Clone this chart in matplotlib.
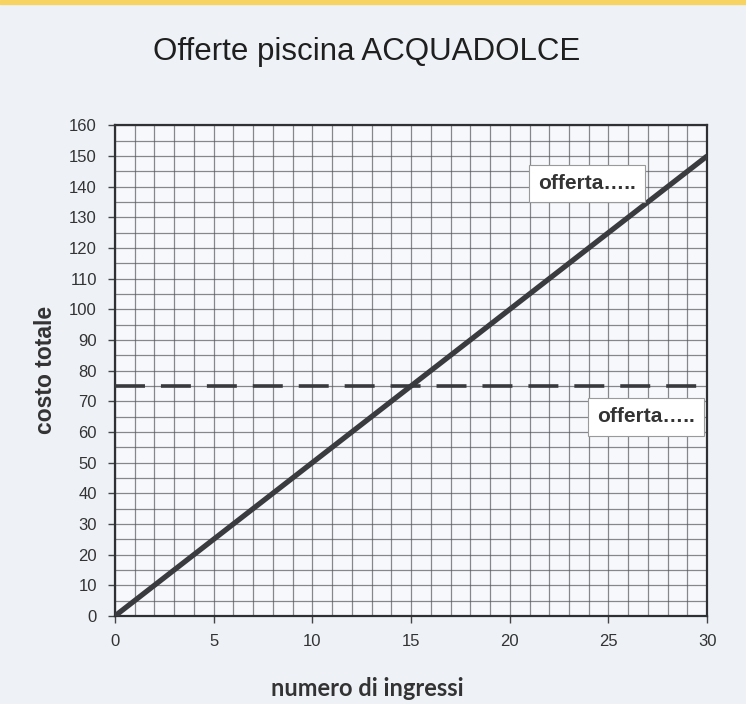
import numpy as np
import matplotlib.pyplot as plt
from matplotlib.patches import Rectangle

# data
ingressi = [0, 30]
costo_a = [0, 150]          # offerta a ingresso
costo_b = [75, 75]          # offerta fissa
x_ticks = [0, 5, 10, 15, 20, 25, 30]
y_ticks = list(range(0, 161, 10))
label_a = "offerta….."
label_b = "offerta….."

bg = "#eef2f7"
fig = plt.figure(figsize=(7.46, 7.04), dpi=100, facecolor=bg)
fig.patches.append(Rectangle((0, 0.994), 1, 0.006, transform=fig.transFigure,
                             color="#f7d462", zorder=5))

ax = fig.add_axes([0.154, 0.125, 0.794, 0.697])
ax.set_facecolor("#f6f8fb")
ax.set_xlim(0, 30)
ax.set_ylim(0, 160)

# grid paper
ax.set_xticks(np.arange(0, 31, 1), minor=True)
ax.set_yticks(np.arange(0, 161, 5), minor=True)
ax.grid(which="both", color="#55585e", linewidth=0.9, alpha=0.7)
ax.set_axisbelow(True)

ax.plot(ingressi, costo_a, color="#3a3b3e", linewidth=3.8, solid_capstyle="butt", zorder=3)
# dashed line stops where its last dash ends
ax.plot([0, 29.55], costo_b, color="#38393c", linewidth=2.6, dashes=(8.3, 4.42), zorder=3)

ax.set_xticks(x_ticks)
ax.set_yticks(y_ticks)
ax.tick_params(which="major", direction="out", length=5, width=1, color="#444",
               labelsize=12, labelcolor="#333", pad=8)
ax.tick_params(which="minor", length=0)
for lab in ax.get_xticklabels() + ax.get_yticklabels():
    lab.set_family("Liberation Sans")
for s in ax.spines.values():
    s.set_color("#2f3033")
    s.set_linewidth(1.6)

box = dict(boxstyle="square,pad=0.45", facecolor="white", edgecolor="#9a9a9a", linewidth=0.8)
ax.text(23.9, 141, label_a, ha="center", va="center", fontsize=15, fontweight="bold",
        family="Liberation Sans", color="#333", bbox=box, zorder=4)
ax.text(26.9, 65, label_b, ha="center", va="center", fontsize=15, fontweight="bold",
        family="Liberation Sans", color="#333", bbox=box, zorder=4)

fig.text(367 / 746, 1 - 52 / 704, "Offerte piscina ACQUADOLCE", ha="center", va="center",
         fontsize=22.5, family="Liberation Sans", color="#1f1f1f")
fig.text(367 / 746, 1 - 688 / 704, "numero di ingressi", ha="center", va="center",
         fontsize=17, fontweight="bold", family="Lato", color="#333")
fig.text(45 / 746, 1 - 370 / 704, "costo totale", ha="center", va="center", rotation=90,
         fontsize=16.5, fontweight="bold", family="Liberation Sans", color="#333")

fig.savefig("out.png", dpi=100, facecolor=bg)
